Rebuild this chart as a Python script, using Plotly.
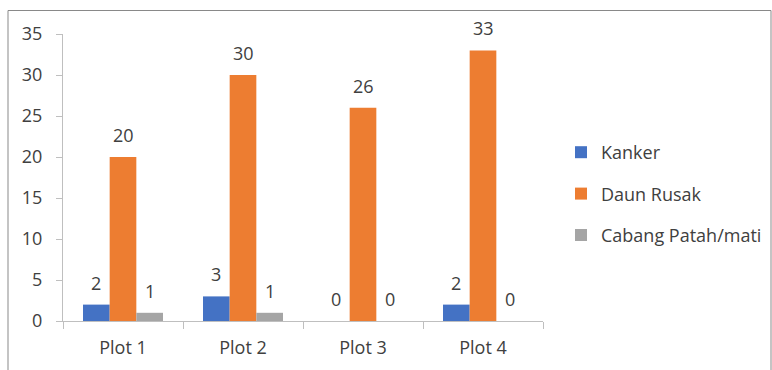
import plotly.graph_objects as go

categories = ["Plot 1", "Plot 2", "Plot 3", "Plot 4"]
series_names = ["Kanker", "Daun Rusak", "Cabang Patah/mati"]
kanker = [2, 3, 0, 2]
daun_rusak = [20, 30, 26, 33]
cabang = [1, 1, 0, 0]
y_ticks = [0, 5, 10, 15, 20, 25, 30, 35]

colors = ["#4472C4", "#ED7D31", "#A5A5A5"]
values = [kanker, daun_rusak, cabang]
FONT = "Open Sans"
TXT = "#404040"
AX = "#BFBFBF"

W, H = 772, 370
ML, MR, MT, MB = 63, 229, 34, 49
PW, PH = W - ML - MR, H - MT - MB

fig = go.Figure()
for name, vals, col in zip(series_names, values, colors):
    fig.add_trace(go.Bar(x=categories, y=vals, name=name, marker_color=col,
                         marker_line_width=0, legendgroup=name))

bargap = 1 / 3
bw = (1 - bargap) / 3
annotations = []
for k, vals in enumerate(values):
    off = (k - 1) * bw
    for i, v in enumerate(vals):
        annotations.append(dict(x=i + off, y=v, xref="x", yref="y", text=str(v),
                                showarrow=False, yshift=22, yanchor="middle",
                                font=dict(family=FONT, size=18, color=TXT)))

fig.update_layout(
    width=W, height=H,
    margin=dict(l=ML, r=MR, t=MT, b=MB, autoexpand=False),
    paper_bgcolor="white", plot_bgcolor="white",
    barmode="group", bargap=bargap, bargroupgap=0,
    font=dict(family=FONT, size=18, color=TXT),
    annotations=annotations,
    legend=dict(x=(561 - ML) / PW, xanchor="left", y=(H - MB - 194) / PH, yanchor="middle",
                font=dict(family=FONT, size=18, color=TXT), traceorder="grouped",
                tracegroupgap=15, bgcolor="rgba(0,0,0,0)"),
    shapes=[dict(type="rect", xref="paper", yref="paper",
                 x0=(8 - ML) / PW, x1=(771 - ML) / PW,
                 y0=-(MB + 10) / PH, y1=(H - MB - 10.5) / PH,
                 line=dict(color="#898989", width=1), layer="below")],
)
fig.update_xaxes(showline=True, linecolor=AX, linewidth=1, ticks="outside", tickson="boundaries",
                 ticklen=7, tickcolor=AX, showgrid=False, tickfont=dict(size=18, color=TXT),
                 ticklabelstandoff=10)
fig.update_yaxes(range=[0, 35], tickvals=y_ticks, showline=True, linecolor=AX, linewidth=1,
                 ticks="outside", ticklen=6, tickcolor=AX, showgrid=False, zeroline=False,
                 tickfont=dict(size=18, color=TXT), ticklabelstandoff=10)

fig.write_html("out.html")
